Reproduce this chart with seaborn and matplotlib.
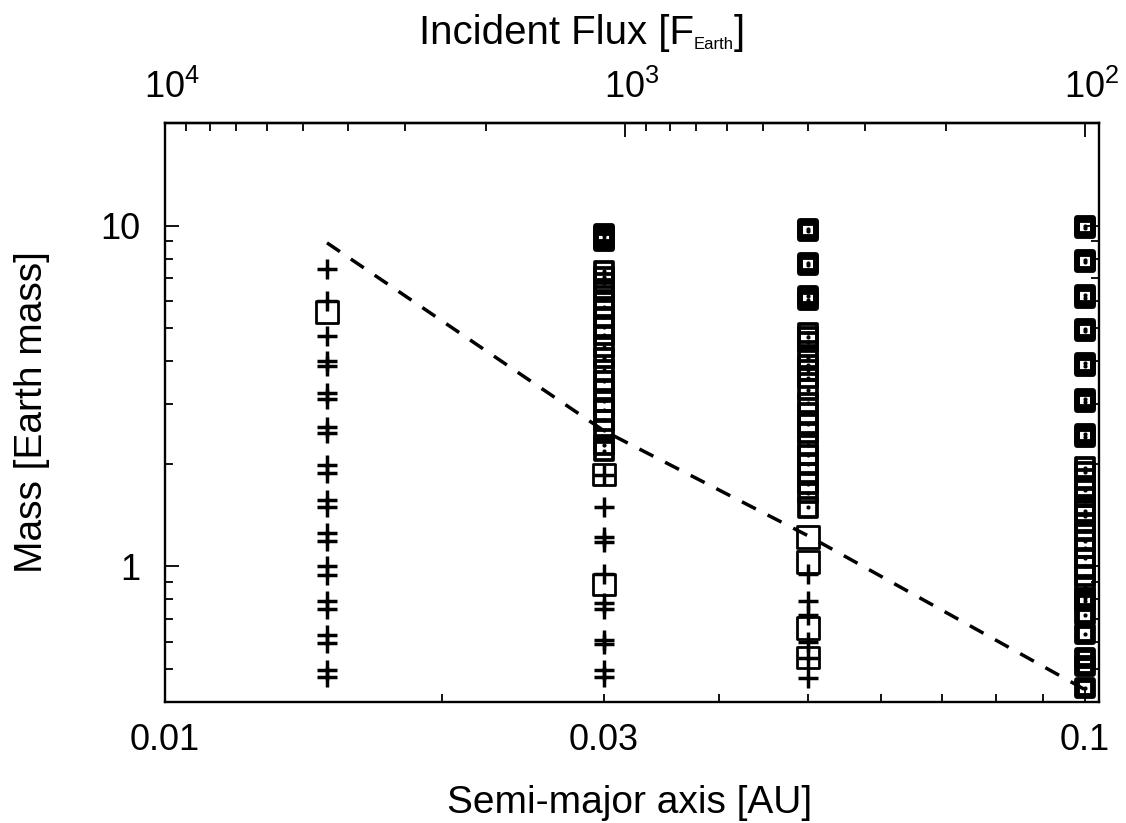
import matplotlib
matplotlib.use("Agg")
import matplotlib.pyplot as plt
import matplotlib.ticker as mticker
import matplotlib.transforms as mtransforms
import numpy as np
import pandas as pd
import seaborn as sns

sns.set_theme(style="white")
plt.rcParams['font.family'] = ['Liberation Sans', 'DejaVu Sans']
plt.rcParams['mathtext.fontset'] = 'custom'
plt.rcParams['mathtext.rm'] = 'Liberation Sans'
plt.rcParams['mathtext.it'] = 'Liberation Sans:italic'
plt.rcParams['text.color'] = 'black'
plt.rcParams['axes.labelcolor'] = 'black'
plt.rcParams['xtick.color'] = 'black'
plt.rcParams['ytick.color'] = 'black'

# ---------------- data ----------------
# semi-major axes of the four simulation columns [AU]
a_015, a_030, a_050, a_100 = 0.015, 0.03, 0.05, 0.1

# planets shown with "+" (mass in Earth masses)
plus_015 = [7.45, 6.0, 4.74, 4.0, 3.87, 3.22, 3.09, 2.56, 2.46, 1.98, 1.88,
            1.57, 1.49, 1.25, 1.19, 1.0, 0.946, 0.79, 0.75, 0.63, 0.596,
            0.498, 0.473]
plus_030 = [1.86, 1.49, 1.22, 1.18, 0.95, 0.78, 0.75, 0.61, 0.59, 0.495,
            0.475]
plus_050 = [0.95, 0.79, 0.72, 0.60, 0.54, 0.47]

# planets shown with squares and a dot: isolated (bold) ones
sq_bold_030 = [9.45, 9.3, 9.15, 9.0]
sq_bold_050 = [9.78, 9.65, 7.77, 7.65, 6.2, 6.05]
sq_bold_100 = [9.98, 9.85, 7.9, 7.8, 6.24, 6.15, 4.96, 4.9, 3.94, 3.88,
               3.09, 3.04, 2.45, 2.4, 0.81, 0.79, 0.72, 0.635, 0.54, 0.51,
               0.44]
# ... and the densely stacked ones
sq_stack_030 = [7.36, 7.05, 6.77, 6.38, 6.05, 5.77, 5.38, 5.05, 4.77, 4.4,
                4.08, 3.76, 3.5, 3.29, 3.05, 2.87, 2.68, 2.51, 2.27, 2.18]
sq_stack_050 = [4.85, 4.71, 4.55, 4.1, 3.9, 3.76, 3.57, 3.3, 3.01, 2.81,
                2.62, 2.46, 2.27, 2.12, 2.0, 1.88, 1.75, 1.64, 1.49]
sq_stack_100 = [1.95, 1.89, 1.8, 1.68, 1.6, 1.51, 1.45, 1.41, 1.34, 1.27,
                1.19, 1.13, 1.06, 1.0, 0.94, 0.87]

# squares without a dot (thin outline)
sq_plain_015 = [5.58]
sq_plain_030 = [1.86, 0.885]
sq_plain_050 = [1.22, 1.03, 0.66, 0.54]

# dashed boundary line
line_a = [0.015, 0.03, 0.05, 0.1]
line_m = [8.9, 2.5, 1.23, 0.435]

# axis ticks
xticks_major = [0.01, 0.1]
xticks_minor = [0.02, 0.03, 0.04, 0.05, 0.06, 0.07, 0.08, 0.09]
xtick_labels = {0.01: "0.01", 0.03: "0.03", 0.1: "0.1"}
yticks_major = [1, 10]
ytick_labels = ["1", "10"]
flux_major = [1e2, 1e3, 1e4]
flux_labels = [r"$10^2$", r"$10^3$", r"$10^4$"]
flux_minor = [200, 300, 400, 500, 600, 700, 800, 900,
              2000, 3000, 4000, 5000, 6000, 7000, 8000, 9000]

# ---------------- frames ----------------
def frame(a, masses):
    return pd.DataFrame({"a": [a] * len(masses), "mass": masses})

plus_df = pd.concat([frame(a_015, plus_015), frame(a_030, plus_030),
                     frame(a_050, plus_050)], ignore_index=True)
bold_df = pd.concat([frame(a_030, sq_bold_030), frame(a_050, sq_bold_050),
                     frame(a_100, sq_bold_100)], ignore_index=True)
stack_df = pd.concat([frame(a_030, sq_stack_030), frame(a_050, sq_stack_050),
                      frame(a_100, sq_stack_100)], ignore_index=True)
plain_df = pd.concat([frame(a_015, sq_plain_015), frame(a_030, sq_plain_030),
                      frame(a_050, sq_plain_050)], ignore_index=True)
dot_df = pd.concat([bold_df, stack_df], ignore_index=True)
line_df = pd.DataFrame({"a": line_a, "mass": line_m})

# ---------------- figure ----------------
W, H = 1126, 823
fig = plt.figure(figsize=(W / 100, H / 100), dpi=100)
L, R, T, B = 165, 1099, 123, 702
ax = fig.add_axes([L / W, 1 - B / H, (R - L) / W, (B - T) / H])
ax.set_xscale("log")
ax.set_yscale("log")

sns.scatterplot(data=plus_df, x="a", y="mass", marker="+", s=190,
                color="black", linewidth=2.5, ax=ax, zorder=3)
sns.scatterplot(data=stack_df, x="a", y="mass", marker="s", s=175,
                facecolor="none", edgecolor="black", linewidth=2.7,
                ax=ax, zorder=3)
sns.scatterplot(data=bold_df, x="a", y="mass", marker="s", s=135,
                facecolor="none", edgecolor="black", linewidth=4.2,
                ax=ax, zorder=3)
sns.scatterplot(data=dot_df, x="a", y="mass", marker="o", s=9,
                color="black", edgecolor="black", linewidth=0, ax=ax,
                zorder=4)
sns.scatterplot(data=plain_df, x="a", y="mass", marker="s", s=240,
                facecolor="none", edgecolor="black", linewidth=2.0,
                ax=ax, zorder=3)
sns.lineplot(data=line_df, x="a", y="mass", color="black", linewidth=2.5,
             linestyle=(0, (4.5, 3.8)), sort=False, ax=ax, zorder=2)

ax.set_xlim(0.01, 0.1036)
ax.set_ylim(0.4, 20)

for s in ax.spines.values():
    s.set_linewidth(1.7)
    s.set_color("black")

ax.xaxis.set_major_locator(mticker.FixedLocator(xticks_major))
ax.xaxis.set_minor_locator(mticker.FixedLocator(xticks_minor))
ax.xaxis.set_major_formatter(mticker.FuncFormatter(
    lambda v, p: xtick_labels.get(round(v, 3), "")))
ax.xaxis.set_minor_formatter(mticker.FuncFormatter(
    lambda v, p: xtick_labels.get(round(v, 3), "")))
ax.yaxis.set_major_locator(mticker.FixedLocator(yticks_major))
ax.yaxis.set_major_formatter(mticker.FixedFormatter(ytick_labels))
ax.yaxis.set_minor_locator(mticker.LogLocator(subs=np.arange(2, 10)))
ax.yaxis.set_minor_formatter(mticker.NullFormatter())

ax.tick_params(axis="both", which="both", direction="in", colors="black",
               labelsize=26, width=1.3)
ax.tick_params(axis="both", which="major", length=10)
ax.tick_params(axis="both", which="minor", length=6)
ax.tick_params(axis="x", which="both", bottom=True, top=False, pad=15)
ax.tick_params(axis="y", which="both", left=True, right=True, pad=18)

ax.set_xlabel("Semi-major axis [AU]", fontsize=28)
ax.set_ylabel("Mass [Earth mass]", fontsize=28)
ax.xaxis.label.set_va("baseline")
ax.yaxis.label.set_va("baseline")
ax.xaxis.set_label_coords(0.497, (B - 813) / (B - T))
ax.yaxis.set_label_coords((42 - L) / (R - L), 0.5)

# top axis: incident flux
def a_to_flux(a):
    a = np.asarray(a, dtype=float)
    return 1.0 / np.clip(a, 1e-6, None) ** 2

def flux_to_a(f):
    f = np.asarray(f, dtype=float)
    return 1.0 / np.sqrt(np.clip(f, 1e-6, None))

sec = ax.secondary_xaxis("top", functions=(a_to_flux, flux_to_a))
sec.xaxis.set_major_locator(mticker.FixedLocator(flux_major))
sec.xaxis.set_major_formatter(mticker.FixedFormatter(flux_labels))
sec.xaxis.set_minor_locator(mticker.FixedLocator(flux_minor))
sec.xaxis.set_minor_formatter(mticker.NullFormatter())
sec.tick_params(axis="x", which="both", direction="in", colors="black",
                labelsize=26, width=1.3, pad=12)
sec.tick_params(axis="x", which="major", length=10)
sec.tick_params(axis="x", which="minor", length=6)
sec.spines["top"].set_linewidth(1.7)
# centre the "10" of each label on its tick, exponent hanging to the right
shift = mtransforms.ScaledTranslation(7 / 100, 0, fig.dpi_scale_trans)
for lab in sec.xaxis.get_majorticklabels():
    lab.set_transform(lab.get_transform() + shift)

# top title built from pieces so the subscript is small
t1 = fig.text(419 / W, 1 - 44 / H, "Incident Flux [F", fontsize=29,
              ha="left", va="baseline")
t2 = ax.annotate("Earth", xy=(1, 0), xycoords=t1, fontsize=12,
                 ha="left", va="bottom", annotation_clip=False)
t3 = ax.annotate("]", xy=(1, 0), xycoords=t2, fontsize=29,
                 ha="left", va="bottom", annotation_clip=False)

fig.savefig("out.png", dpi=100)
